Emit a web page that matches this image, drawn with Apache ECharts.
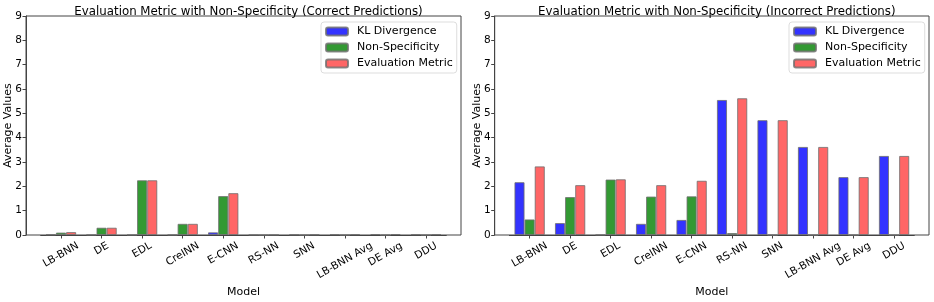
<!DOCTYPE html>
<html>
<head>
<meta charset="utf-8">
<script src="https://cdn.jsdelivr.net/npm/echarts@6/dist/echarts.min.js"></script>
<style>html,body{margin:0;padding:0;background:#fff}#c{width:934px;height:302px}</style>
</head>
<body>
<div id="c"></div>
<script>
const models = ['LB-BNN','DE','EDL','CreINN','E-CNN','RS-NN','SNN','LB-BNN Avg','DE Avg','DDU'];
const yTicks = [0,1,2,3,4,5,6,7,8,9];
// Correct predictions
const klCorrect   = [0.02, 0.01, 0.01, 0.01, 0.11, 0.01, 0.02, 0.03, 0.04, 0.03];
const nsCorrect   = [0.10, 0.30, 2.25, 0.46, 1.60, 0.00, 0.00, 0.00, 0.00, 0.00];
const emCorrect   = [0.12, 0.30, 2.25, 0.46, 1.72, 0.01, 0.02, 0.03, 0.04, 0.03];
// Incorrect predictions
const klIncorrect = [2.17, 0.49, 0.01, 0.46, 0.62, 5.55, 4.72, 3.62, 2.38, 3.25];
const nsIncorrect = [0.64, 1.56, 2.28, 1.58, 1.59, 0.08, 0.00, 0.00, 0.00, 0.00];
const emIncorrect = [2.82, 2.05, 2.29, 2.05, 2.23, 5.62, 4.72, 3.62, 2.38, 3.25];
const seriesNames = ['KL Divergence','Non-Specificity','Evaluation Metric'];
const colors = ['#3333ff','#339933','#ff6666'];
const titles = ['Evaluation Metric with Non-Specificity (Correct Predictions)','Evaluation Metric with Non-Specificity (Incorrect Predictions)'];

const FONT = 'DejaVu Sans';
const TICK_FS = 10.5;
const ROT = 30;
const chart = echarts.init(document.getElementById('c'), null, {renderer:'canvas'});

// per-label padding so the rotated label's bounding box is centred under its tick
const mctx = document.createElement('canvas').getContext('2d');
mctx.font = TICK_FS + 'px "' + FONT + '"';
const th = ROT * Math.PI / 180;
const rich = {};
models.forEach((m, i) => {
  const W = mctx.measureText(m).width;
  rich['p' + i] = {fontSize:TICK_FS, fontFamily:FONT, color:'#000', lineHeight:12,
    padding:[W*Math.sin(th)*Math.cos(th), W*Math.sin(th)*Math.sin(th), 0, 0]};
});
const catData = models.map(m => ({value:m, textStyle:{align:'center', verticalAlign:'middle'}}));

const panels = [
  {frameL:26, frameR:461, data:[klCorrect, nsCorrect, emCorrect]},
  {frameL:494.7, frameR:929, data:[klIncorrect, nsIncorrect, emIncorrect]}
];
const TOP = 16, BOTTOM = 235;
const grids = [], xAxes = [], yAxes = [], series = [], legends = [], titleArr = [];
panels.forEach((p, pi) => {
  const w = p.frameR - p.frameL;
  const band = w / 10.725;
  const barLeft = p.frameL + (0.8625 - 0.5) * band;
  const barW = band * 10;
  grids.push({left:p.frameL, top:TOP, width:w, height:BOTTOM-TOP, show:true, borderColor:'#444', borderWidth:1, backgroundColor:'transparent', containLabel:false, outerBoundsMode:'none'});
  grids.push({left:barLeft, top:TOP, width:barW, height:BOTTOM-TOP, containLabel:false, outerBoundsMode:'none'});
  const gf = pi*2, gb = pi*2+1;
  xAxes.push({gridIndex:gf, type:'value', min:0, max:1, show:false});
  xAxes.push({gridIndex:gb, type:'category', data:catData,
    axisLine:{show:true, lineStyle:{color:'#444', width:1}},
    axisTick:{show:true, alignWithLabel:true, length:3.5, lineStyle:{color:'#444'}},
    axisLabel:{rotate:ROT, fontSize:TICK_FS, color:'#000', fontFamily:FONT, margin:10, interval:0, hideOverlap:false,
      formatter:(v, i) => '{p' + i + '|' + v + '}', rich:rich},
    name:'Model', nameLocation:'middle', nameGap:52, nameMoveOverlap:false,
    nameTextStyle:{fontSize:11, color:'#000', fontFamily:FONT}
  });
  yAxes.push({gridIndex:gf, type:'value', min:yTicks[0], max:yTicks[yTicks.length-1], interval:1,
    axisLine:{show:true, lineStyle:{color:'#444'}},
    axisTick:{show:true, length:3.5, lineStyle:{color:'#444'}},
    splitLine:{show:false},
    axisLabel:{fontSize:TICK_FS, color:'#000', fontFamily:FONT, margin:4},
    name:'Average Values', nameLocation:'middle', nameGap:12, nameMoveOverlap:false,
    nameTextStyle:{fontSize:11, color:'#000', fontFamily:FONT}
  });
  yAxes.push({gridIndex:gb, type:'value', min:0, max:9, show:false});
  p.data.forEach((arr, si) => {
    series.push({
      type:'bar', name:seriesNames[si], xAxisIndex:pi*2+1, yAxisIndex:pi*2+1,
      data:arr, barWidth:'25%', barGap:'0%',
      itemStyle:{color:colors[si], borderColor:'rgba(110,110,110,0.8)', borderWidth:1},
      emphasis:{disabled:true}, animation:false
    });
  });
  legends.push({
    orient:'vertical', left:p.frameR - 140, top:22,
    data:seriesNames, itemWidth:22, itemHeight:8, itemGap:3,
    backgroundColor:'#fff', borderColor:'#ddd', borderWidth:1, borderRadius:3,
    padding:[3,4,3,4],
    textStyle:{fontSize:11, color:'#000', fontFamily:FONT, lineHeight:13, padding:[0,0,0,4]},
    selectedMode:false
  });
  titleArr.push({text:titles[pi], left:(p.frameL+p.frameR)/2, top:1, textAlign:'center',
    textStyle:{fontSize:11.8, fontWeight:'normal', color:'#000', fontFamily:FONT}});
});

chart.setOption({
  animation:false,
  textStyle:{fontFamily:FONT},
  title:titleArr,
  grid:grids, xAxis:xAxes, yAxis:yAxes, legend:legends, series:series
});
</script>
</body>
</html>
